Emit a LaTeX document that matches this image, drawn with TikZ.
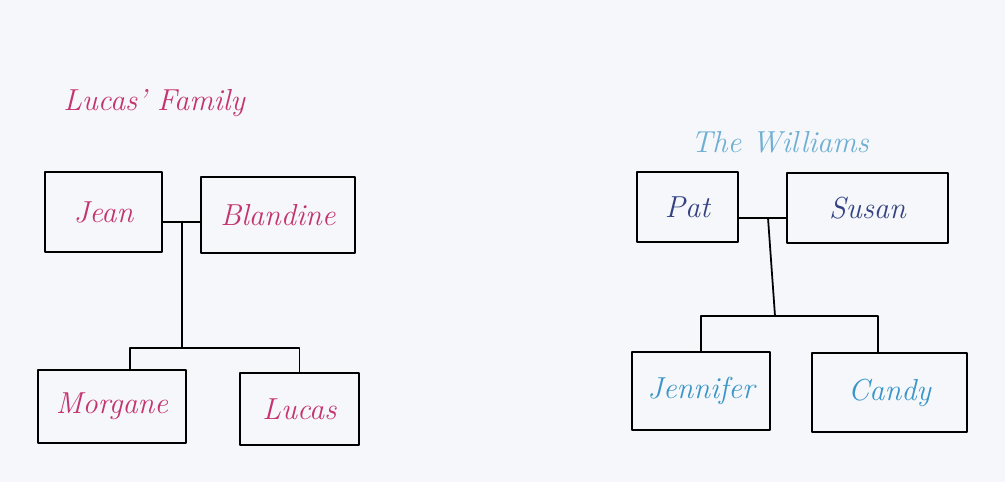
\documentclass[tikz,border=0pt]{standalone}
\usepackage{xcolor}
\definecolor{paper}{RGB}{245,247,250}
\definecolor{pinkink}{RGB}{196,52,112}
\definecolor{navyink}{RGB}{52,66,130}
\definecolor{cyanink}{RGB}{58,150,200}
\definecolor{skyink}{RGB}{110,175,210}
\begin{document}
\begin{tikzpicture}[line join=round,line cap=round,font=\LARGE\itshape,
	person/.style={draw=black,line width=1pt,rectangle,inner sep=0pt},
	link/.style={draw=black,line width=1pt}]
	% Paper
	\fill[paper] (0,0) rectangle (20.1,-9.64);
	\useasboundingbox (0,0) rectangle (20.1,-9.64);
	% Lucas' family
	\node[text=pinkink] (ltitle) at (3.08,-2.06) {Lucas' Family};
	\node[person,minimum width=2.34cm,minimum height=1.6cm] (jean) at (2.07,-4.24) {\color{pinkink}Jean};
	\node[person,minimum width=3.08cm,minimum height=1.52cm] (blandine) at (5.56,-4.30) {\color{pinkink}Blandine};
	\node[person,minimum width=2.96cm,minimum height=1.46cm] (morgane) at (2.24,-8.13) {\color{pinkink}Morgane};
	\node[person,minimum width=2.38cm,minimum height=1.44cm] (lucas) at (5.99,-8.18) {\color{pinkink}Lucas};
	\coordinate (lcouple) at (3.64,-4.44);
	\coordinate (lkids) at (3.64,-6.96);
	% Vẽ các đường nối
	\draw[link] (jean.east |- lcouple) -- (blandine.west |- lcouple);
	\draw[link] (lcouple) -- (lkids);
	\draw[link] ([xshift=0.36cm]morgane.north) |- (lkids) -| (lucas.north);
	% The Williams
	\node[text=skyink] (rtitle) at (15.6,-2.84) {The Williams};
	\node[person,minimum width=2.02cm,minimum height=1.40cm] (pat) at (13.75,-4.14) {\color{navyink}Pat};
	\node[person,minimum width=3.22cm,minimum height=1.40cm] (susan) at (17.35,-4.16) {\color{navyink}Susan};
	\node[person,minimum width=2.76cm,minimum height=1.56cm] (jennifer) at (14.02,-7.82) {\color{cyanink}Jennifer};
	\node[person,minimum width=3.10cm,minimum height=1.58cm] (candy) at (17.79,-7.85) {\color{cyanink}Candy};
	\coordinate (rcouple) at (15.36,-4.36);
	\coordinate (rkids) at (15.5,-6.32);
	\draw[link] (pat.east |- rcouple) -- (susan.west |- rcouple);
	\draw[link] (rcouple) -- (rkids);
	\draw[link] (jennifer.north) |- (rkids) -| ([xshift=-0.23cm]candy.north);
\end{tikzpicture}
\end{document}
